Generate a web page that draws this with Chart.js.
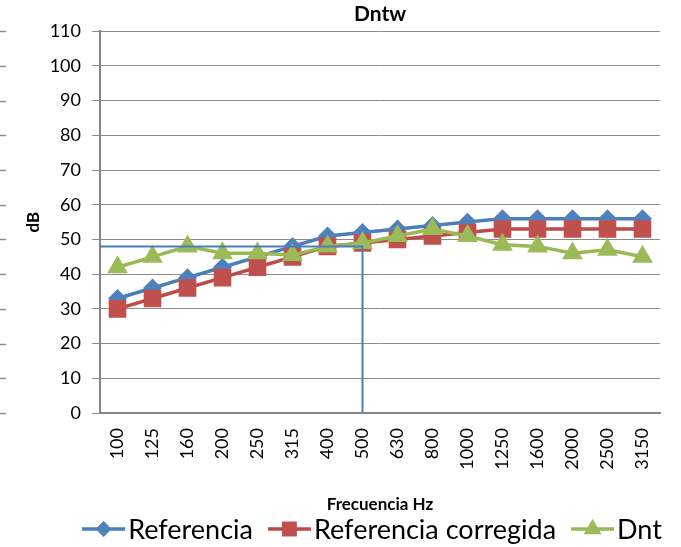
<!DOCTYPE html>
<html>
<head>
<meta charset="utf-8">
<script src="https://cdn.jsdelivr.net/npm/chart.js@4/dist/chart.umd.min.js"></script>
<style>
    body { margin: 0; background: #fff; }
    #grafica { display: block; }
</style>
</head>
<body>
<canvas id="grafica" width="681" height="547"></canvas>
<script>
const frecuencias = ['100', '125', '160', '200', '250', '315', '400', '500', '630', '800', '1000', '1250', '1600', '2000', '2500', '3150'];
const referencia = [33, 36, 39, 42, 45, 48, 51, 52, 53, 54, 55, 56, 56, 56, 56, 56];
const referenciaCorregida = [30, 33, 36, 39, 42, 45, 48, 49, 50, 51, 52, 53, 53, 53, 53, 53];
const dnt = [42, 45, 48, 46, 46, 45.5, 48, 49, 51, 53, 51, 48.5, 48, 46, 47, 45];

// Dntw y frecuencia de lectura (500 Hz)
const nivelDntw = 48;
const frecuenciaLectura = '500';

const yMin = 0;
const yMax = 110;
const yPaso = 10;

const fuente = 'Lato, "Liberation Sans", sans-serif';

// linea Dntw: horizontal desde el eje y bajada vertical en 500 Hz
const lineaDntw = {
    id: 'lineaDntw',
    afterDatasetsDraw(chart) {
        const { ctx, chartArea, scales } = chart;
        const px = scales.x.getPixelForValue(frecuencias.indexOf(frecuenciaLectura));
        const py = scales.y.getPixelForValue(nivelDntw);
        ctx.save();
        ctx.strokeStyle = '#4A7EBB';
        ctx.lineWidth = 2;
        ctx.beginPath();
        ctx.moveTo(chartArea.left, py);
        ctx.lineTo(px, py);
        ctx.lineTo(px, chartArea.bottom);
        ctx.stroke();

        // marcas sueltas en el borde izquierdo
        ctx.strokeStyle = '#8C8C8C';
        ctx.lineWidth = 1.5;
        scales.y.ticks.forEach((t, i) => {
            const yy = Math.round(scales.y.getPixelForTick(i)) + 0.5;
            ctx.beginPath();
            ctx.moveTo(0, yy);
            ctx.lineTo(6, yy);
            ctx.stroke();
        });
        ctx.restore();
    }
};

function marcador(ctx, ds, x, y, escala) {
    ctx.fillStyle = ds.pointBackgroundColor;
    ctx.strokeStyle = ds.pointBorderColor;
    Chart.helpers.drawPoint(ctx, {
        pointStyle: ds.pointStyle,
        radius: ds.pointRadius * escala,
        rotation: 0,
        borderWidth: 1
    }, x, y);
}

// leyenda abajo: linea + marcador + texto
const leyenda = {
    id: 'leyenda',
    afterDraw(chart) {
        const ctx = chart.ctx;
        const datasets = chart.data.datasets;
        const largo = 43, sep = 3, entre = 15;
        ctx.save();
        ctx.font = '27px ' + fuente;
        ctx.textBaseline = 'middle';
        const anchos = datasets.map(d => ctx.measureText(d.label).width);
        const total = anchos.reduce((a, b) => a + b, 0) + datasets.length * (largo + sep) + (datasets.length - 1) * entre;
        let x = 372 - total / 2;
        const y = 529;
        datasets.forEach((d, i) => {
            ctx.strokeStyle = d.borderColor;
            ctx.lineWidth = d.borderWidth;
            ctx.beginPath();
            ctx.moveTo(x, y);
            ctx.lineTo(x + largo, y);
            ctx.stroke();
            marcador(ctx, d, x + largo / 2, y, 0.8);
            ctx.fillStyle = '#000';
            ctx.fillText(d.label, x + largo + sep, y + 1);
            x += largo + sep + anchos[i] + entre;
        });
        ctx.restore();
    }
};

function graficaDntw() {

    let grafica = document.getElementById('grafica');

    new Chart(grafica, {
        type: 'line',
        data: {
            labels: frecuencias,
            datasets: [
                {
                    label: 'Referencia',
                    data: referencia,
                    order: 2,
                    borderColor: '#4A7EBB',
                    borderWidth: 3.5,
                    pointStyle: 'rectRot',
                    pointRadius: 7,
                    pointHoverRadius: 7,
                    pointBackgroundColor: '#4F81BD',
                    pointBorderColor: '#4F81BD',
                    tension: 0
                },
                {
                    label: 'Referencia corregida',
                    data: referenciaCorregida,
                    order: 1,
                    borderColor: '#BE4B48',
                    borderWidth: 3.5,
                    pointStyle: 'rect',
                    pointRadius: 10,
                    pointHoverRadius: 10,
                    pointBackgroundColor: '#C0504D',
                    pointBorderColor: '#C0504D',
                    tension: 0
                },
                {
                    label: 'Dnt',
                    data: dnt,
                    order: 0,
                    borderColor: '#98B954',
                    borderWidth: 3.5,
                    pointStyle: 'triangle',
                    pointRadius: 8.5,
                    pointHoverRadius: 8.5,
                    pointBackgroundColor: '#9BBB59',
                    pointBorderColor: '#9BBB59',
                    tension: 0
                }
            ]
        },
        options: {
            responsive: false,
            animation: false,
            layout: {
                padding: { left: 0, right: 21, top: 0, bottom: 24 }
            },
            plugins: {
                legend: { display: false },
                tooltip: { enabled: false },
                title: {
                    display: true,
                    text: 'Dntw',
                    fullSize: false,
                    color: '#000',
                    font: { family: fuente, size: 21, weight: 'bold' },
                    padding: { top: 2, bottom: 4 }
                }
            },
            scales: {
                x: {
                    offset: true,
                    afterFit: (scale) => { scale.height = 110; },
                    grid: { display: false, drawTicks: false, offset: true },
                    border: { display: true, color: '#868686', width: 2 },
                    ticks: {
                        color: '#000',
                        font: { family: fuente, size: 18 },
                        minRotation: 90,
                        maxRotation: 90,
                        autoSkip: false,
                        padding: 15
                    },
                    title: {
                        display: true,
                        text: 'Frecuencia Hz',
                        color: '#000',
                        font: { family: fuente, size: 17, weight: 'bold' },
                        padding: { top: 0, bottom: 8 }
                    }
                },
                y: {
                    min: yMin,
                    max: yMax,
                    afterFit: (scale) => { scale.width = 100; },
                    grid: { color: '#8C8C8C', lineWidth: 1, tickLength: 8 },
                    border: { color: '#868686', width: 2 },
                    ticks: {
                        stepSize: yPaso,
                        color: '#000',
                        font: { family: fuente, size: 18 },
                        padding: 11
                    },
                    title: {
                        display: true,
                        text: 'dB',
                        color: '#000',
                        font: { family: fuente, size: 17, weight: 'bold' },
                        padding: { top: 23, bottom: 0 }
                    }
                }
            }
        },
        plugins: [lineaDntw, leyenda]
    });
}

graficaDntw();
</script>
</body>
</html>
